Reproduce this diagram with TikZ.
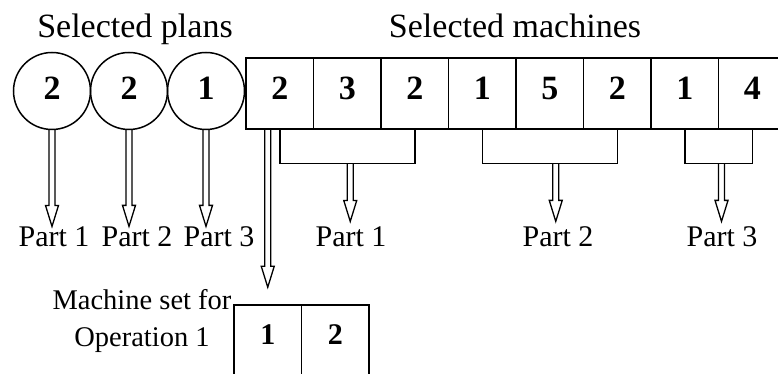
\documentclass[tikz,border=0pt]{standalone}
\usepackage{fontspec}
\setmainfont{Liberation Serif}
\usetikzlibrary{calc}
\begin{document}
\begin{tikzpicture}[x=1pt,y=1pt,
  line width=1.5pt,
  plan/.style={draw, circle, minimum size=77pt, inner sep=0pt,
    font=\fontsize{34}{40}\selectfont\bfseries, text height=23pt, text depth=5pt},
  mach/.style={draw, rectangle, minimum width=67.5pt, minimum height=71pt, inner sep=0pt,
    font=\fontsize{34}{40}\selectfont\bfseries, text height=23pt, text depth=10pt},
  opbox/.style={draw, rectangle, minimum width=67.5pt, minimum height=71pt, inner sep=0pt,
    font=\fontsize{30}{36}\selectfont\bfseries, text height=20.3pt, text depth=11.3pt},
  title/.style={anchor=base, inner sep=0pt, font=\fontsize{34}{40}\selectfont},
  part/.style={anchor=base, inner sep=0pt, font=\fontsize{30}{36}\selectfont},
  note/.style={anchor=north, inner sep=0pt, align=center, font=\fontsize{28.5}{37}\selectfont},
  hollow/.style={line width=1.3pt, to path={
    ($(\tikztostart)+(-3,0)$) -- ($(\tikztotarget)+(-3,21)$)
    -- ($(\tikztotarget)+(-6.5,21)$) -- (\tikztotarget)
    -- ($(\tikztotarget)+(6.5,21)$) -- ($(\tikztotarget)+(3,21)$)
    -- ($(\tikztostart)+(3,0)$)}}
]
\path[use as bounding box] (0,0) rectangle (778,374);
\clip (0,0) rectangle (778,374);

% headings
\node[title] (tp) at (135,336) {Selected plans};
\node[title] (tm) at (515,336) {Selected machines};

% selected plans
\node[plan] (c1) at (52,283) {2};
\node[plan] (c2) at (129,283) {2};
\node[plan] (c3) at (206,283) {1};

% selected machines
\foreach \n [count=\i] in {2,3,2,1,5,2,1,4}
  \node[mach] (b\i) at ({279.75+67.5*(\i-1)},280.5) {\n};

% part labels
\node[part] (q1) at (54,127) {Part 1};
\node[part] (q2) at (137,127) {Part 2};
\node[part] (q3) at (219,127) {Part 3};
\node[part] (r1) at (351,127) {Part 1};
\node[part] (r2) at (558,127) {Part 2};
\node[part] (r3) at (722,127) {Part 3};

% machine set for operation 1
\node[note] (ms) at (142,85.5) {Machine set for\\Operation 1};
\node[opbox] (m1) at (267.75,33.5) {1};
\node[opbox] (m2) at (335.25,33.5) {2};

% brackets grouping the machines of each part
\draw (b1.south) -- ++(0,-34) -| (b3.south);
\draw (b4.south) -- ++(0,-34) -| (b6.south);
\draw (b7.south) -- ++(0,-34) -| (b8.south);
\coordinate (k1) at ($(b1.south)!0.5!(b3.south)+(3,-34)$);
\coordinate (k2) at ($(b4.south)!0.5!(b6.south)+(6,-34)$);
\coordinate (k3) at ($(b7.south)!0.5!(b8.south)+(3,-34)$);
\coordinate (s0) at (b1.south -| m1);

% hollow arrows
\draw[hollow] (c1.south) to (c1 |- q1.north);
\draw[hollow] (c2.south) to (c2 |- q2.north);
\draw[hollow] (c3.south) to (c3 |- q3.north);
\draw[hollow] (k1) to ($(k1 |- r1.north)+(0,5)$);
\draw[hollow] (k2) to ($(k2 |- r2.north)+(0,5)$);
\draw[hollow] (k3) to ($(k3 |- r3.north)+(0,5)$);
\draw[hollow] (s0) to ($(m1.north)+(0,17)$);
\end{tikzpicture}
\end{document}
